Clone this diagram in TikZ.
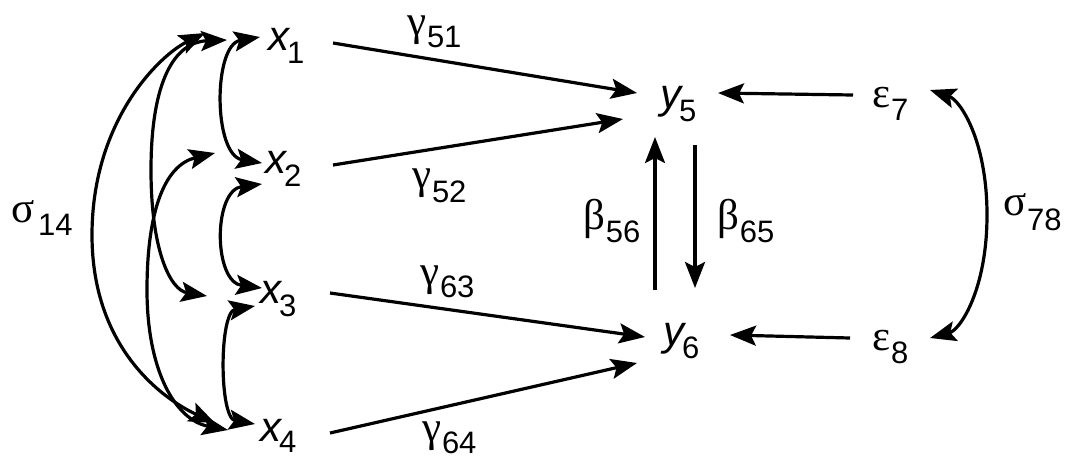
\documentclass[tikz,border=0pt]{standalone}
\usepackage{fontspec}
\setmainfont{Liberation Sans}
\newfontfamily\grkfont{Liberation Serif}
\usetikzlibrary{arrows.meta,calc}
\newcommand\subtxt[1]{{\fontsize{31}{31}\selectfont #1}}
\newcommand\mysym[4]{#1\kern#3\raisebox{-#2}{\subtxt{#4}}}
\newcommand\xvar[2]{\mysym{{\fontsize{42}{42}\selectfont\itshape #1}}{13pt}{-2pt}{#2}}
\newcommand\gvar[3]{\mysym{{\fontsize{43}{43}\selectfont\grkfont #1}}{#3}{1pt}{#2}}
\tikzset{
  lab/.style={anchor=base west, inner sep=0pt, outer sep=0pt},
  tipa/.tip={Stealth[length=26pt,width=20pt,inset=5pt]},
  conn/.style={line width=3.2pt, -tipa},
  corr/.style={line width=3.2pt, tipa-tipa},
}
\begin{document}
\begin{tikzpicture}[x=1pt,y=-1pt]
\useasboundingbox (0,0) rectangle (1073,459);
% nodes
\node[lab] (x1) at (268,50) {\xvar{x}{1}};
\node[lab] (x2) at (265,173) {\xvar{x}{2}};
\node[lab] (x3) at (260,303) {\xvar{x}{3}};
\node[lab] (x4) at (260,441) {\mysym{{\fontsize{42}{42}\selectfont\itshape x}}{11pt}{-2pt}{4}};
\node[lab] (y5) at (660,108) {\xvar{y}{5}};
\node[lab] (y6) at (663,345) {\xvar{y}{6}};
\node[lab] (e7) at (872,107) {\gvar{ε}{7}{13pt}};
\node[lab] (e8) at (872,350) {\gvar{ε}{8}{13pt}};
\node[lab] (g51) at (407,35) {\gvar{γ}{51}{12pt}};
\node[lab] (g52) at (412,188) {\gvar{γ}{52}{14pt}};
\node[lab] (g63) at (420,285) {\gvar{γ}{63}{12pt}};
\node[lab] (g64) at (422,441) {\gvar{γ}{64}{12pt}};
\node[lab] (s14) at (12,222) {\mysym{{\fontsize{43}{43}\selectfont\grkfont σ}}{13pt}{3pt}{14}};
\node[lab] (s78) at (1003,215) {\gvar{σ}{78}{15pt}};
\node[lab] (b56) at (583,229) {\gvar{β}{56}{13pt}};
\node[lab] (b65) at (717,229) {\gvar{β}{65}{13pt}};
% straight paths
\draw[conn] ($(x1.base west)+(65,-7)$) -- ($(y5.base west)+(-23,-15)$);
\draw[conn] ($(x2.base west)+(68,-8)$) -- ($(y5.base west)+(-37,11)$);
\draw[conn] ($(x3.base west)+(70,-10)$) -- ($(y6.base west)+(-18,-8)$);
\draw[conn] ($(x4.base west)+(70,-8)$) -- ($(y6.base west)+(-26,18)$);
\draw[conn] ($(e7.base west)+(-19,-12)$) -- ($(y5.base west)+(58,-15)$);
\draw[conn] ($(e8.base west)+(-22,-12)$) -- ($(y6.base west)+(67,-10)$);
\draw[conn] ($(y6.base west)+(-8,-55)$) -- ($(y5.base west)+(-5,29)$);
\draw[conn] ($(y5.base west)+(35,37)$) -- ($(y6.base west)+(32,-57)$);
% adjacent correlations
\draw[corr] ($(x2.base west)+(-3,-10)$) .. controls (213,155) and (213,45) .. ($(x1.base west)+(-8,-13)$);
\draw[corr] ($(x3.base west)+(2,-15)$) .. controls (213,282) and (213,190) .. ($(x2.base west)+(-3,11)$);
\draw[corr] ($(x4.base west)+(-5,-17)$) .. controls (219,418) and (219,312) .. ($(x3.base west)+(-5,3)$);
% wider correlations
\draw[corr] ($(x3.base west)+(-53,-7)$) .. controls (170,290) and (151,250) .. (151,170)
  .. controls (151,80) and (175,42) .. ($(x1.base west)+(-41,-10)$);
\draw[corr] ($(x4.base west)+(-32,-11)$) .. controls (175,420) and (147,370) .. (147,290)
  .. controls (147,210) and (165,165) .. ($(x2.base west)+(-50,-20)$);
\draw[corr] ($(x4.base west)+(-45,-18)$) .. controls (165,400) and (92,350) .. (92,235)
  .. controls (92,120) and (160,55) .. ($(x1.base west)+(-63,-17)$);
% error correlation
\draw[corr] ($(e8.base west)+(58,-12)$) .. controls (960,330) and (987,290) .. (987,215)
  .. controls (987,140) and (960,100) .. ($(e7.base west)+(58,-17)$);
\end{tikzpicture}
\end{document}
